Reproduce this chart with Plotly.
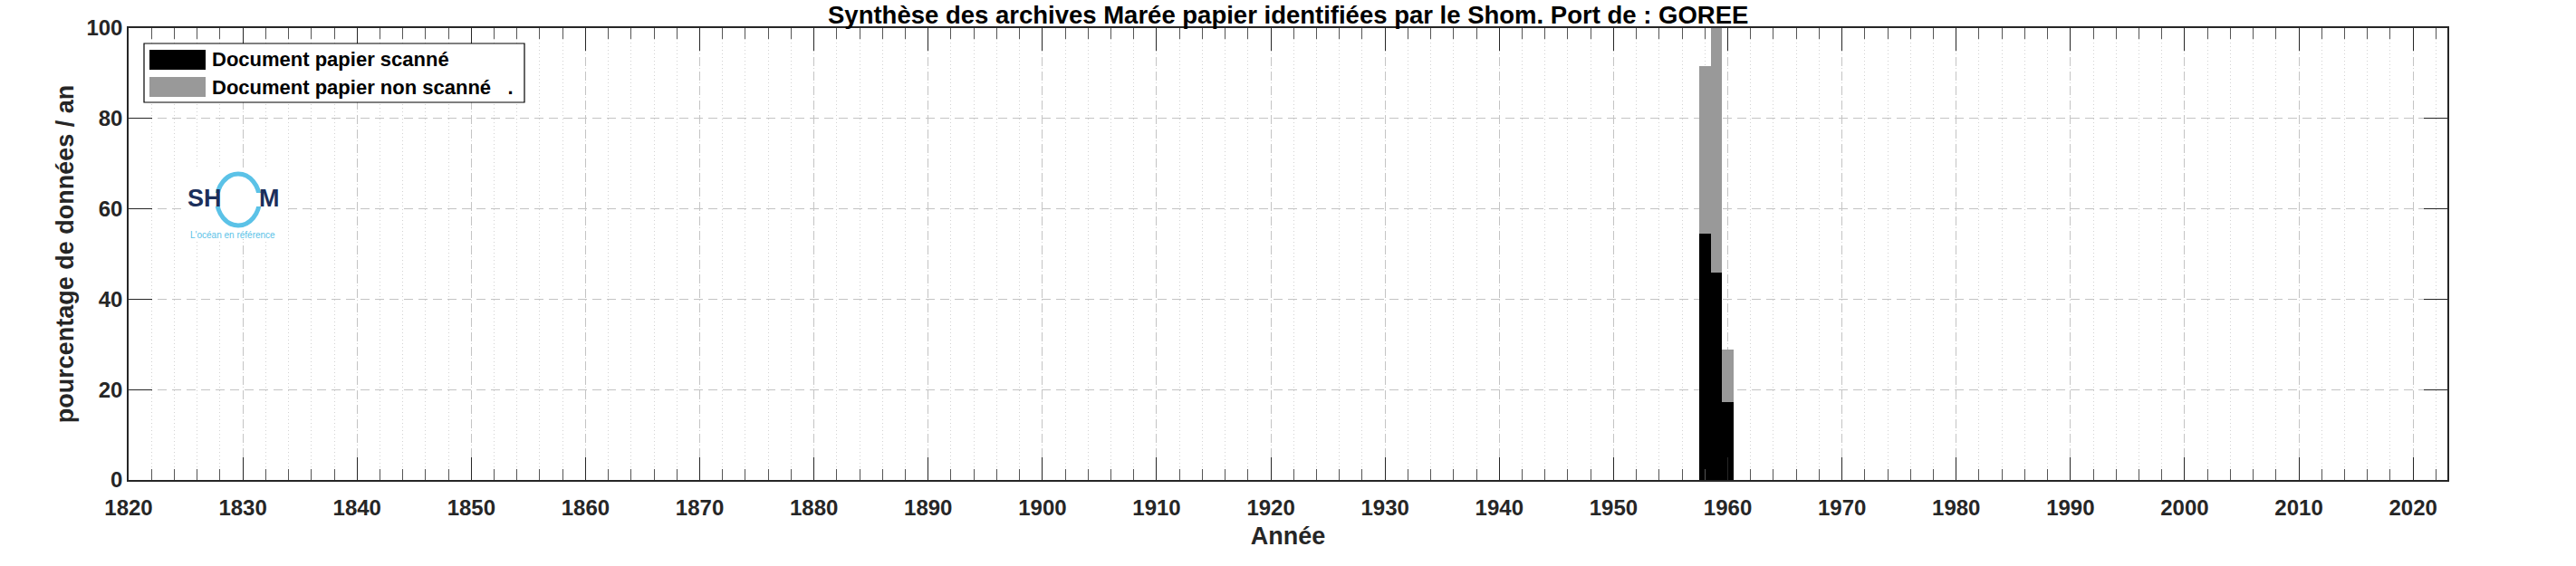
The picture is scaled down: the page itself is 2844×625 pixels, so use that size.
import plotly.graph_objects as go

# ---- data ----
years = [1958, 1959, 1960]
scanned = [54.5, 45.8, 17.2]          # Document papier scanné (%)
not_scanned = [37.0, 54.2, 11.7]      # Document papier non scanné (%), stacked on top
x_ticks = list(range(1820, 2021, 10))
y_ticks = [0, 20, 40, 60, 80, 100]
title_text = "Synthèse des archives Marée papier identifiées par le Shom. Port de : GOREE"
legend_labels = ["Document papier scanné", "Document papier non scanné   ."]
bar_colors = ["#000000", "#999999"]

W, H = 2844, 625
L, R, T, B = 142, 142, 31, 95
PW, PH = W - L - R, H - T - B

def px(xp):
    return (xp - L) / PW

def py(yp):
    return (H - B - yp) / PH

FONT = "Liberation Sans, Arial, sans-serif"
AX = "#262626"

fig = go.Figure()
fig.add_trace(go.Bar(x=years, y=scanned, width=1, name=legend_labels[0],
                     marker=dict(color=bar_colors[0], line=dict(width=0)), showlegend=False))
fig.add_trace(go.Bar(x=years, y=not_scanned, width=1, name=legend_labels[1],
                     marker=dict(color=bar_colors[1], line=dict(width=0)), showlegend=False))

axis_common = dict(
    showline=True, linecolor=AX, linewidth=1.5, mirror="ticks",
    ticks="inside", tickcolor=AX, tickwidth=1.2,
    tickfont=dict(family=FONT, size=24, color=AX, weight="bold"),
    showgrid=True, gridcolor="#c4c4c4", griddash="10px,6px", gridwidth=1,
    zeroline=False,
)

fig.update_layout(
    width=W, height=H,
    margin=dict(l=L, r=R, t=T, b=B),
    paper_bgcolor="white", plot_bgcolor="white",
    barmode="stack", bargap=0,
    xaxis=dict(range=[1820, 2023], tickvals=x_ticks, ticklen=25, ticklabelstandoff=8,
               minor=dict(dtick=2, ticks="inside", ticklen=12, tickcolor="#555555",
                          tickwidth=1, showgrid=True, gridcolor="#d2d2d2",
                          griddash="1px,3px", gridwidth=1),
               title=dict(text="Année", standoff=10,
                          font=dict(family=FONT, size=27, color=AX, weight="bold")),
               **axis_common),
    yaxis=dict(range=[0, 100], tickvals=y_ticks, ticklen=26,
               title=dict(text="pourcentage de données / an", standoff=6,
                          font=dict(family=FONT, size=27, color=AX, weight="bold")),
               **axis_common),
)

shapes = []
annotations = []

# ---- title ----
annotations.append(dict(text=title_text, xref="paper", yref="paper", x=0.5, y=py(16),
                        xanchor="center", yanchor="middle", showarrow=False,
                        font=dict(family=FONT, size=27.5, color="#000000", weight="bold")))

# ---- manual legend (MATLAB style) ----
shapes.append(dict(type="rect", xref="paper", yref="paper", layer="above",
                   x0=px(159), x1=px(579), y0=py(113), y1=py(48),
                   fillcolor="white", line=dict(color="#000000", width=1.2)))
for i, (lab, col) in enumerate(zip(legend_labels, bar_colors)):
    yc = 66 + 30 * i
    shapes.append(dict(type="rect", xref="paper", yref="paper", layer="above",
                       x0=px(165), x1=px(227), y0=py(yc + 11), y1=py(yc - 11),
                       fillcolor=col, line=dict(width=0)))
    annotations.append(dict(text=lab, xref="paper", yref="paper", x=px(232), y=py(yc),
                            xanchor="left", yanchor="middle", showarrow=False,
                            font=dict(family=FONT, size=22, color="#000000", weight="bold")))

# ---- SHOM logo (drawn) ----
shapes.append(dict(type="rect", xref="paper", yref="paper", layer="above",
                   x0=px(200), x1=px(312), y0=py(264), y1=py(187),
                   fillcolor="white", line=dict(width=0)))
cx, cy, rx, ry = 263, 220.5, 23.5, 28.5
shapes.append(dict(type="circle", xref="paper", yref="paper", layer="above",
                   x0=px(cx - rx), x1=px(cx + rx), y0=py(cy + ry), y1=py(cy - ry),
                   line=dict(color="#5bc2e7", width=5)))
for gx in (cx - rx, cx + rx):
    shapes.append(dict(type="rect", xref="paper", yref="paper", layer="above",
                       x0=px(gx - 6), x1=px(gx + 6), y0=py(228), y1=py(213),
                       fillcolor="white", line=dict(width=0)))
annotations.append(dict(text="SH", xref="paper", yref="paper", x=px(226), y=py(219),
                        xanchor="center", yanchor="middle", showarrow=False,
                        font=dict(family=FONT, size=27, color="#1b2f5b", weight="bold")))
annotations.append(dict(text="M", xref="paper", yref="paper", x=px(297.5), y=py(219),
                        xanchor="center", yanchor="middle", showarrow=False,
                        font=dict(family=FONT, size=27, color="#1b2f5b", weight="bold")))
annotations.append(dict(text="L'océan en référence", xref="paper", yref="paper",
                        x=px(257), y=py(259), xanchor="center", yanchor="middle",
                        showarrow=False, font=dict(family=FONT, size=10, color="#5bc2e7")))

fig.update_layout(shapes=shapes, annotations=annotations)

fig.write_html("out.html", config={"displayModeBar": False},
               post_script="document.body.style.margin='0';")
